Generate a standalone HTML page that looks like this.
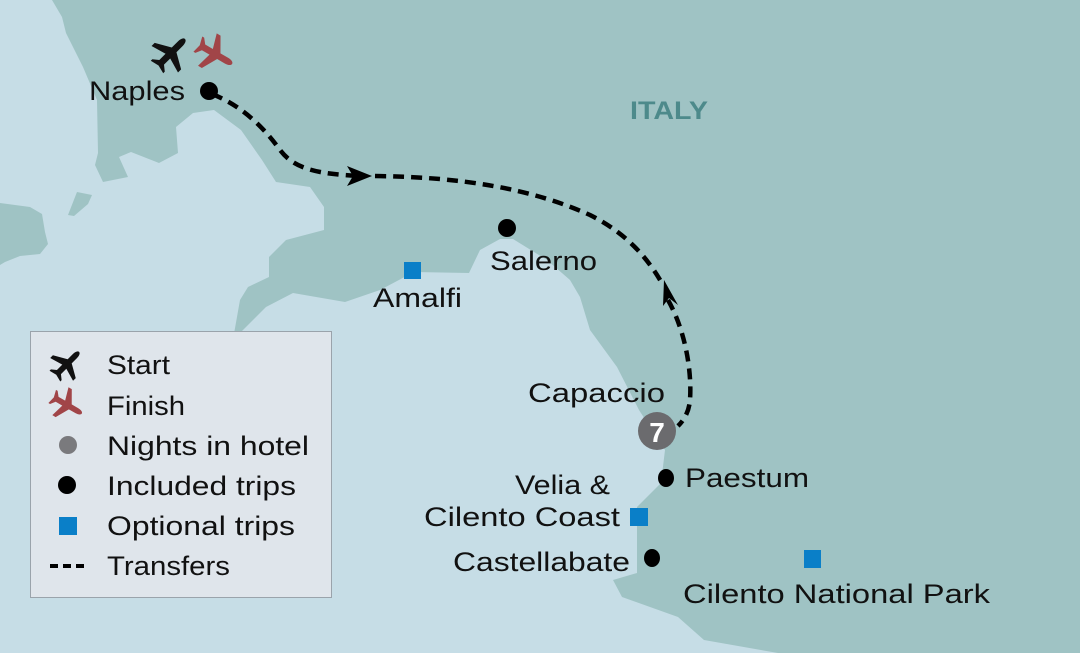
<!DOCTYPE html>
<html><head><meta charset="utf-8"><style>
html,body{margin:0;padding:0;width:1080px;height:653px;overflow:hidden;background:#c6dde6}
svg{display:block}
text{font-family:"Liberation Sans",sans-serif;fill:#111}
</style></head><body>
<svg width="1080" height="653" viewBox="0 0 1080 653" xmlns="http://www.w3.org/2000/svg">
<defs>
<path id="pl" d="M0,-18 C2,-18 3,-15 3,-12 L3,-4 L17,4 L17,8 L3,4 L3,12 L8,16 L8,18 L0,16 L-8,18 L-8,16 L-3,12 L-3,4 L-17,8 L-17,4 L-3,-4 L-3,-12 C-3,-15 -2,-18 0,-18 Z"/>
</defs>
<rect width="1080" height="653" fill="#c6dde6"/>
<path fill="#9fc3c4" d="M52,0 L1080,0 L1080,653 L778,653 L704,640 L678,617 L622,597 L613,580 L637,573 L637,507 L661,483 L665,450 L639,410 L617,367 L590,330 L580,297 L570,280 L547,260 L513,239 L500,239 L480,250 L469,273 L414,272 L380,290 L345,302 L293,293 L266,307 L238,335 L232,345 L240,300 L248,287 L269,277 L269,257 L286,240 L324,230 L324,207 L310,187 L276,182 L262,160 L241,130 L214,110 L193,113 L176,127 L178,153 L159,163 L131,152 L119,157 L128,177 L103,182 L95,165 L98,153 L97,100 L83,67 L66,33 L62,17 Z"/>
<path fill="#9fc3c4" d="M0,203 L30,207 L42,214 L45,232 L48,244 L40,254 L20,256 L5,262 L0,265 Z"/>
<path fill="#9fc3c4" d="M77,192 L92,195 L88,204 L74,216 L68,215 Z"/>

<!-- route -->
<g fill="none" stroke="#000" stroke-width="4.5" stroke-dasharray="11,7">
<path d="M212,94 C240,105 262,125 280,150 C295,170 320,174 360,176"/>
<path d="M375,176 C460,177 530,188 590,215 C630,235 650,262 663,285"/>
<path d="M668,300 C685,330 692,370 690,400 C689,412 684,420 678,426"/>
</g>
<polygon points="372,176 347,166 353,176 347,186" fill="#000"/>
<polygon points="664,280 663,306 669,298 678,305" fill="#000"/>

<!-- planes -->
<use href="#pl" transform="translate(171,53) rotate(45) scale(1.1)" fill="#111"/>
<use href="#pl" transform="translate(215,54) rotate(120) scale(1.1)" fill="#a14548"/>

<!-- markers -->
<circle cx="209" cy="91" r="9" fill="#000"/>
<circle cx="507" cy="228" r="9" fill="#000"/>
<rect x="404" y="262" width="17" height="17" fill="#0a7fc8"/>
<circle cx="657" cy="431" r="19" fill="#6b6b6e"/>
<text x="657" y="442" font-size="28" font-weight="bold" text-anchor="middle" style="fill:#fff">7</text>
<ellipse cx="666" cy="478" rx="8" ry="9" fill="#000"/>
<rect x="630" y="508" width="18" height="18" fill="#0a7fc8"/>
<ellipse cx="652" cy="558" rx="8" ry="9" fill="#000"/>
<rect x="804" y="550" width="17" height="18" fill="#0a7fc8"/>

<!-- labels -->
<text x="89" y="100" font-size="27" textLength="96" lengthAdjust="spacingAndGlyphs">Naples</text>
<text x="630" y="119" font-size="25" font-weight="bold" textLength="78" lengthAdjust="spacingAndGlyphs" style="fill:#4d8a8b">ITALY</text>
<text x="490" y="270" font-size="27" textLength="107" lengthAdjust="spacingAndGlyphs">Salerno</text>
<text x="373" y="307" font-size="27" textLength="89" lengthAdjust="spacingAndGlyphs">Amalfi</text>
<text x="528" y="402" font-size="27" textLength="137" lengthAdjust="spacingAndGlyphs">Capaccio</text>
<text x="685" y="487" font-size="27" textLength="124" lengthAdjust="spacingAndGlyphs">Paestum</text>
<text x="515" y="494" font-size="27" textLength="95" lengthAdjust="spacingAndGlyphs">Velia &amp;</text>
<text x="424" y="526" font-size="27" textLength="196" lengthAdjust="spacingAndGlyphs">Cilento Coast</text>
<text x="453" y="571" font-size="27" textLength="177" lengthAdjust="spacingAndGlyphs">Castellabate</text>
<text x="683" y="603" font-size="27" textLength="307" lengthAdjust="spacingAndGlyphs">Cilento National Park</text>

<!-- legend -->
<rect x="30.5" y="331.5" width="301" height="266" fill="#dfe5eb" stroke="#9aa3ab" stroke-width="1"/>
<use href="#pl" transform="translate(67,364) rotate(45) scale(0.95)" fill="#111"/>
<use href="#pl" transform="translate(67,405) rotate(120) scale(0.95)" fill="#a14548"/>
<circle cx="68" cy="445" r="9" fill="#7a7a7d"/>
<circle cx="67" cy="485" r="9" fill="#000"/>
<rect x="59" y="517" width="18" height="18" fill="#0a7fc8"/>
<line x1="50" y1="566" x2="88" y2="566" stroke="#000" stroke-width="4" stroke-dasharray="8,5"/>
<g font-size="27">
<text x="107" y="374" textLength="63" lengthAdjust="spacingAndGlyphs">Start</text>
<text x="107" y="415" textLength="78" lengthAdjust="spacingAndGlyphs">Finish</text>
<text x="107" y="455" textLength="202" lengthAdjust="spacingAndGlyphs">Nights in hotel</text>
<text x="107" y="495" textLength="189" lengthAdjust="spacingAndGlyphs">Included trips</text>
<text x="107" y="535" textLength="188" lengthAdjust="spacingAndGlyphs">Optional trips</text>
<text x="107" y="575" textLength="123" lengthAdjust="spacingAndGlyphs">Transfers</text>
</g>
</svg>
</body></html>
